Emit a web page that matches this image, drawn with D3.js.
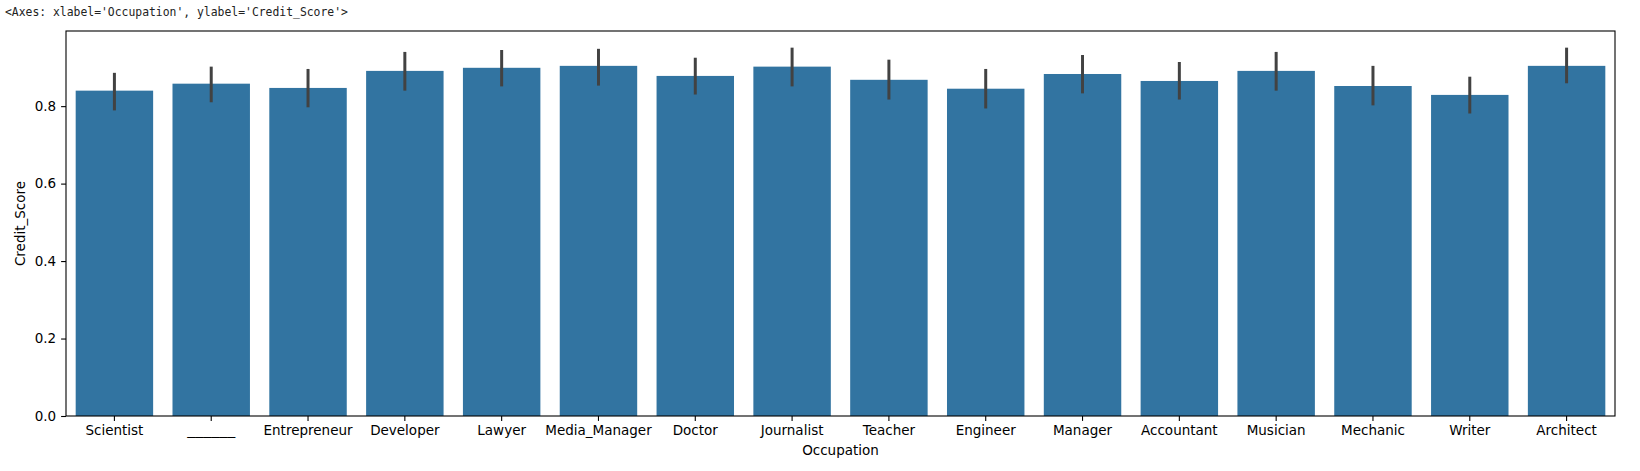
<!DOCTYPE html>
<html>
<head>
<meta charset="utf-8">
<script src="https://cdn.jsdelivr.net/npm/d3@7"></script>
<style>
  html, body { margin: 0; padding: 0; background: #fff; }
  svg { display: block; }
</style>
</head>
<body>
<svg id="chart" width="1640" height="471"></svg>
<script>
const categories = ["Scientist", "______", "Entrepreneur", "Developer", "Lawyer", "Media_Manager", "Doctor", "Journalist", "Teacher", "Engineer", "Manager", "Accountant", "Musician", "Mechanic", "Writer", "Architect"];
const meanScore = [0.840, 0.858, 0.847, 0.891, 0.899, 0.904, 0.878, 0.902, 0.868, 0.845, 0.883, 0.865, 0.891, 0.852, 0.829, 0.904];
const ciLow  = [0.789, 0.810, 0.797, 0.840, 0.851, 0.853, 0.830, 0.851, 0.817, 0.794, 0.833, 0.817, 0.840, 0.802, 0.781, 0.859];
const ciHigh = [0.886, 0.902, 0.896, 0.940, 0.945, 0.948, 0.925, 0.951, 0.920, 0.896, 0.932, 0.914, 0.940, 0.904, 0.876, 0.951];
const yTicks = [0.0, 0.2, 0.4, 0.6, 0.8];
const titleText = "<Axes: xlabel='Occupation', ylabel='Credit_Score'>";
const xLabel = "Occupation";
const yLabel = "Credit_Score";

const data = categories.map((c, i) => ({ c, v: meanScore[i], lo: ciLow[i], hi: ciHigh[i] }));

const L = 66, R = 1615, T = 31, B = 416;
const svg = d3.select("#chart");

const x = d3.scaleBand().domain(categories).range([L, R]).paddingInner(0.2).paddingOuter(0.1);
const y = d3.scaleLinear().domain([0, 0.994]).range([B, T]);

// title text
svg.append("text")
  .attr("x", 5).attr("y", 16)
  .attr("font-family", "'DejaVu Sans Mono', monospace")
  .attr("font-size", 11.4)
  .attr("fill", "#222")
  .text(titleText);

// bars
svg.append("g").selectAll("rect").data(data).join("rect")
  .attr("x", d => x(d.c))
  .attr("y", d => y(d.v))
  .attr("width", x.bandwidth())
  .attr("height", d => y(0) - y(d.v))
  .attr("fill", "#3274a1");

// error bars
svg.append("g").selectAll("line").data(data).join("line")
  .attr("x1", d => x(d.c) + x.bandwidth() / 2)
  .attr("x2", d => x(d.c) + x.bandwidth() / 2)
  .attr("y1", d => y(d.lo))
  .attr("y2", d => y(d.hi))
  .attr("stroke", "#424242")
  .attr("stroke-width", 3);

const fontFam = "'DejaVu Sans', sans-serif";

// x axis
const gx = svg.append("g").attr("transform", `translate(0,${B})`)
  .call(d3.axisBottom(x).tickSize(4.9).tickPadding(5).tickSizeOuter(0));
gx.select(".domain").remove();
gx.selectAll("text").attr("font-family", fontFam).attr("font-size", 13.5).attr("fill", "#000")
  .filter(d => /^_+$/.test(d))
  .attr("textLength", 48).attr("lengthAdjust", "spacingAndGlyphs");
gx.selectAll("line").attr("stroke", "#000").attr("stroke-width", 1.1);

// y axis
const gy = svg.append("g").attr("transform", `translate(${L},0)`)
  .call(d3.axisLeft(y).tickValues(yTicks).tickFormat(d3.format(".1f")).tickSize(4.9).tickPadding(5).tickSizeOuter(0));
gy.select(".domain").remove();
gy.selectAll("text").attr("font-family", fontFam).attr("font-size", 13.5).attr("fill", "#000");
gy.selectAll("line").attr("stroke", "#000").attr("stroke-width", 1.1);

// frame
svg.append("rect")
  .attr("x", L).attr("y", T).attr("width", R - L).attr("height", B - T)
  .attr("fill", "none").attr("stroke", "#000").attr("stroke-width", 1.1);

// axis labels
svg.append("text")
  .attr("x", (L + R) / 2).attr("y", 455)
  .attr("text-anchor", "middle")
  .attr("font-family", fontFam).attr("font-size", 13.5)
  .text(xLabel);

svg.append("text")
  .attr("transform", `translate(25,${(T + B) / 2}) rotate(-90)`)
  .attr("text-anchor", "middle")
  .attr("font-family", fontFam).attr("font-size", 13.5)
  .text(yLabel);
</script>
</body>
</html>
